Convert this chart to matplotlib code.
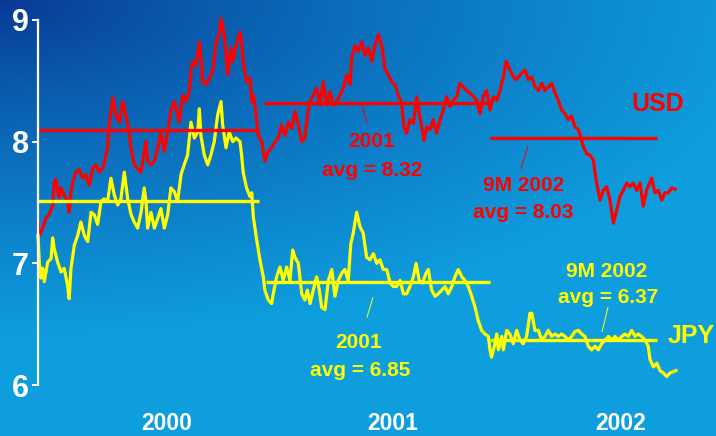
import matplotlib.pyplot as plt
import numpy as np

plt.rcParams['font.family'] = ['Liberation Sans', 'DejaVu Sans']
plt.rcParams['font.weight'] = 'bold'

# time in years since 1 Jan 2000, rate values
usd_t = [0.000, 0.006, 0.021, 0.035, 0.050, 0.065, 0.072, 0.080, 0.087, 0.094,
         0.102, 0.116, 0.131, 0.138, 0.146, 0.154, 0.168, 0.183, 0.198, 0.212,
         0.227, 0.242, 0.257, 0.271, 0.286, 0.301, 0.308, 0.315, 0.331, 0.345,
         0.360, 0.375, 0.389, 0.397, 0.412, 0.426, 0.441, 0.456, 0.470, 0.478,
         0.485, 0.500, 0.515, 0.530, 0.544, 0.559, 0.574, 0.588, 0.603, 0.611,
         0.625, 0.640, 0.655, 0.669, 0.677, 0.685, 0.699, 0.714, 0.721, 0.729,
         0.743, 0.758, 0.773, 0.788, 0.802, 0.810, 0.824, 0.832, 0.839, 0.854,
         0.862, 0.876, 0.894, 0.901, 0.908, 0.923, 0.938, 0.946, 0.953, 0.960,
         0.975, 0.990, 1.004, 1.019, 1.034, 1.049, 1.063, 1.078, 1.093, 1.108,
         1.123, 1.137, 1.152, 1.167, 1.181, 1.192, 1.204, 1.218, 1.233, 1.248,
         1.262, 1.277, 1.292, 1.307, 1.322, 1.336, 1.351, 1.366, 1.381, 1.388,
         1.403, 1.417, 1.432, 1.447, 1.462, 1.477, 1.491, 1.506, 1.521, 1.535,
         1.550, 1.565, 1.580, 1.594, 1.609, 1.619, 1.631, 1.646, 1.661, 1.676,
         1.687, 1.698, 1.708, 1.720, 1.735, 1.749, 1.764, 1.779, 1.793, 1.808,
         1.823, 1.838, 1.853, 1.867, 1.882, 1.897, 1.912, 1.926, 1.941, 1.956,
         1.970, 1.985, 2.000, 2.015, 2.030, 2.044, 2.059, 2.071, 2.081, 2.096,
         2.111, 2.125, 2.140, 2.155, 2.169, 2.185, 2.199, 2.214, 2.229, 2.243,
         2.258, 2.273, 2.288, 2.302, 2.317, 2.332, 2.346, 2.361, 2.376, 2.391,
         2.401, 2.413, 2.428, 2.442, 2.457, 2.465, 2.475, 2.487, 2.501, 2.516,
         2.531, 2.546, 2.561, 2.575, 2.590, 2.605, 2.619, 2.634, 2.649, 2.664,
         2.678, 2.693, 2.715, 2.730, 2.745, 2.760, 2.774, 2.789, 2.804, 2.819]
usd = [7.34, 7.23, 7.29, 7.37, 7.40, 7.48, 7.67, 7.69, 7.59, 7.54,
       7.62, 7.56, 7.51, 7.42, 7.59, 7.67, 7.75, 7.77, 7.70, 7.73,
       7.64, 7.78, 7.81, 7.75, 7.78, 7.89, 7.95, 8.14, 8.36, 8.22,
       8.16, 8.33, 8.22, 8.14, 7.95, 7.81, 7.78, 7.75, 7.92, 8.00,
       7.84, 7.81, 7.84, 7.95, 8.08, 7.92, 8.08, 8.25, 8.33, 8.28,
       8.16, 8.38, 8.33, 8.41, 8.58, 8.66, 8.63, 8.82, 8.69, 8.49,
       8.47, 8.52, 8.58, 8.82, 8.88, 9.01, 8.88, 8.71, 8.55, 8.77,
       8.66, 8.79, 8.90, 8.82, 8.66, 8.49, 8.52, 8.33, 8.38, 8.30,
       8.05, 8.00, 7.84, 7.92, 7.95, 8.00, 8.03, 8.14, 8.05, 8.16,
       8.11, 8.25, 8.14, 8.00, 8.03, 8.22, 8.33, 8.38, 8.44, 8.30,
       8.49, 8.30, 8.41, 8.30, 8.33, 8.38, 8.44, 8.55, 8.47, 8.69,
       8.79, 8.74, 8.82, 8.71, 8.77, 8.66, 8.79, 8.88, 8.79, 8.60,
       8.55, 8.49, 8.47, 8.38, 8.32, 8.12, 8.07, 8.18, 8.15, 8.37,
       8.23, 8.12, 8.01, 8.12, 8.10, 8.18, 8.07, 8.18, 8.26, 8.37,
       8.29, 8.34, 8.37, 8.48, 8.45, 8.42, 8.40, 8.37, 8.34, 8.23,
       8.37, 8.42, 8.26, 8.37, 8.34, 8.42, 8.53, 8.66, 8.62, 8.56,
       8.51, 8.53, 8.56, 8.59, 8.51, 8.53, 8.45, 8.42, 8.48, 8.42,
       8.45, 8.48, 8.40, 8.34, 8.26, 8.23, 8.18, 8.21, 8.12, 8.10,
       8.04, 7.96, 7.90, 7.89, 7.85, 7.74, 7.63, 7.52, 7.60, 7.63,
       7.52, 7.33, 7.44, 7.55, 7.60, 7.66, 7.63, 7.66, 7.60, 7.66,
       7.47, 7.60, 7.70, 7.58, 7.60, 7.52, 7.58, 7.58, 7.62, 7.61]

jpy_t = [0.000, 0.006, 0.013, 0.021, 0.028, 0.043, 0.058, 0.065, 0.072, 0.087,
         0.102, 0.116, 0.131, 0.138, 0.146, 0.161, 0.176, 0.190, 0.205, 0.220,
         0.235, 0.249, 0.264, 0.279, 0.293, 0.308, 0.323, 0.338, 0.353, 0.367,
         0.382, 0.397, 0.412, 0.426, 0.441, 0.456, 0.470, 0.478, 0.485, 0.500,
         0.515, 0.530, 0.544, 0.559, 0.574, 0.588, 0.603, 0.618, 0.633, 0.647,
         0.662, 0.677, 0.692, 0.707, 0.714, 0.721, 0.736, 0.751, 0.765, 0.780,
         0.795, 0.810, 0.817, 0.832, 0.846, 0.862, 0.876, 0.894, 0.901, 0.908,
         0.923, 0.938, 0.946, 0.953, 0.968, 0.982, 0.997, 1.004, 1.019, 1.034,
         1.041, 1.056, 1.071, 1.085, 1.100, 1.115, 1.127, 1.137, 1.152, 1.167,
         1.181, 1.192, 1.204, 1.218, 1.233, 1.245, 1.255, 1.270, 1.285, 1.300,
         1.314, 1.329, 1.344, 1.358, 1.373, 1.384, 1.395, 1.410, 1.425, 1.439,
         1.454, 1.469, 1.484, 1.499, 1.513, 1.528, 1.543, 1.558, 1.572, 1.587,
         1.602, 1.617, 1.631, 1.646, 1.661, 1.673, 1.687, 1.702, 1.717, 1.727,
         1.742, 1.757, 1.771, 1.786, 1.801, 1.815, 1.831, 1.845, 1.860, 1.875,
         1.889, 1.904, 1.919, 1.934, 1.948, 1.963, 1.978, 1.993, 2.000, 2.007,
         2.022, 2.030, 2.037, 2.052, 2.059, 2.074, 2.088, 2.103, 2.118, 2.133,
         2.147, 2.162, 2.177, 2.185, 2.199, 2.214, 2.229, 2.243, 2.258, 2.273,
         2.288, 2.302, 2.317, 2.332, 2.346, 2.361, 2.376, 2.391, 2.406, 2.420,
         2.435, 2.450, 2.465, 2.479, 2.494, 2.509, 2.524, 2.539, 2.553, 2.568,
         2.583, 2.597, 2.612, 2.627, 2.642, 2.656, 2.671, 2.686, 2.700, 2.708,
         2.723, 2.738, 2.752, 2.767, 2.782, 2.796, 2.811, 2.823]
jpy = [7.23, 7.01, 6.88, 6.96, 6.85, 7.01, 7.04, 7.21, 7.12, 7.01,
       6.93, 6.96, 6.82, 6.71, 6.96, 7.15, 7.23, 7.34, 7.23, 7.18,
       7.42, 7.40, 7.32, 7.51, 7.53, 7.51, 7.70, 7.56, 7.48, 7.53,
       7.75, 7.53, 7.40, 7.34, 7.29, 7.42, 7.62, 7.51, 7.29, 7.42,
       7.29, 7.37, 7.45, 7.29, 7.40, 7.62, 7.59, 7.51, 7.73, 7.81,
       7.89, 8.16, 8.03, 8.08, 8.27, 8.05, 7.89, 7.81, 7.89, 8.00,
       8.22, 8.33, 8.14, 7.95, 8.08, 8.00, 8.03, 8.00, 7.89, 7.75,
       7.62, 7.55, 7.58, 7.38, 7.19, 7.03, 6.89, 6.78, 6.70, 6.67,
       6.75, 6.89, 6.97, 6.86, 6.97, 6.86, 7.11, 7.05, 7.00, 6.75,
       6.70, 6.78, 6.67, 6.78, 6.89, 6.78, 6.64, 6.62, 6.86, 6.95,
       6.73, 6.86, 6.92, 6.95, 6.86, 7.16, 7.25, 7.42, 7.30, 7.25,
       7.05, 7.03, 7.08, 7.00, 7.03, 6.95, 6.95, 6.84, 6.81, 6.81,
       6.86, 6.75, 6.75, 6.81, 6.89, 7.00, 6.86, 6.84, 6.92, 6.95,
       6.78, 6.73, 6.75, 6.78, 6.81, 6.75, 6.81, 6.89, 6.95, 6.89,
       6.86, 6.81, 6.73, 6.64, 6.53, 6.45, 6.42, 6.40, 6.29, 6.23,
       6.34, 6.42, 6.29, 6.40, 6.29, 6.45, 6.42, 6.34, 6.45, 6.37,
       6.34, 6.40, 6.59, 6.59, 6.45, 6.45, 6.37, 6.40, 6.45, 6.40,
       6.42, 6.40, 6.42, 6.40, 6.37, 6.40, 6.44, 6.45, 6.42, 6.40,
       6.32, 6.29, 6.32, 6.29, 6.34, 6.37, 6.40, 6.37, 6.40, 6.37,
       6.40, 6.42, 6.40, 6.45, 6.40, 6.42, 6.40, 6.37, 6.32, 6.21,
       6.15, 6.18, 6.12, 6.10, 6.07, 6.10, 6.11, 6.12]

# period averages: (start, end, value)
usd_avg = [(2000.00, 2000.98, 8.10), (2001.00, 2002.00, 8.32), (2002.00, 2002.74, 8.03)]
jpy_avg = [(2000.00, 2000.98, 7.51), (2001.01, 2002.00, 6.85), (2002.00, 2002.74, 6.37)]

year_pos = [2000.57, 2001.57, 2002.58]
year_lab = ['2000', '2001', '2002']

RED = '#ff0000'
YEL = '#ffff00'

fig = plt.figure(figsize=(7.16, 4.36), dpi=100)
ax = fig.add_axes([0, 0, 1, 1])
x0, x1 = 1999.832, 2003.0
y0, y1 = 5.582, 9.164
ax.set_xlim(x0, x1)
ax.set_ylim(y0, y1)

# blue gradient background
gx, gy = np.meshgrid(np.linspace(0, 1, 300), np.linspace(0, 1, 200))
t = np.clip(np.sqrt((gx * 1.0) ** 2 + (gy * 1.4) ** 2) / 1.1, 0, 1) ** 0.8
dark = np.array([8, 55, 148]) / 255
light = np.array([14, 158, 222]) / 255
bg = dark[None, None, :] * (1 - t[..., None]) + light[None, None, :] * t[..., None]
ax.imshow(bg, extent=[x0, x1, y0, y1], aspect='auto', origin='upper', zorder=0)

ax.plot(2000 + np.array(usd_t), usd, color=RED, lw=2.3, zorder=3)
ax.plot(2000 + np.array(jpy_t), jpy, color=YEL, lw=2.3, zorder=3)

for a, b, v in usd_avg:
    ax.hlines(v, a, b, color=RED, lw=2.4, zorder=4)
for a, b, v in jpy_avg:
    ax.hlines(v, a, b, color=YEL, lw=2.4, zorder=4)

# annotations
kw = dict(ha='center', va='center', fontsize=15, fontweight='bold', zorder=5)
ax.text(2001.478, 8.00, '2001', color=RED, **kw)
ax.text(2001.478, 7.76, 'avg = 8.32', color=RED, **kw)
ax.plot([2001.434, 2001.456], [8.30, 8.15], color=RED, lw=0.7, zorder=5)

ax.text(2002.150, 7.64, '9M 2002', color=RED, **kw)
ax.text(2002.146, 7.42, 'avg = 8.03', color=RED, **kw)
ax.plot([2002.168, 2002.137], [7.96, 7.78], color=RED, lw=0.7, zorder=5)

ax.text(2001.420, 6.35, '2001', color=YEL, **kw)
ax.text(2001.425, 6.12, 'avg = 6.85', color=YEL, **kw)
ax.plot([2001.482, 2001.456], [6.72, 6.56], color=YEL, lw=0.7, zorder=5)

ax.text(2002.518, 6.93, '9M 2002', color=YEL, **kw)
ax.text(2002.522, 6.72, 'avg = 6.37', color=YEL, **kw)
ax.plot([2002.522, 2002.496], [6.64, 6.44], color=YEL, lw=0.7, zorder=5)

ax.text(2002.743, 8.31, 'USD', color=RED, ha='center', va='center',
        fontsize=18, fontweight='bold', zorder=5)
ax.text(2002.788, 6.40, 'JPY', color=YEL, ha='left', va='center',
        fontsize=18, fontweight='bold', zorder=5)

# axes styling
for s in ['top', 'right']:
    ax.spines[s].set_visible(False)
ax.spines['left'].set_position(('data', 2000.0))
ax.spines['left'].set_bounds(6, 9)
ax.spines['left'].set_color('white')
ax.spines['left'].set_linewidth(1.6)
ax.spines['left'].set_zorder(6)
ax.spines['bottom'].set_position(('data', 5.79))
ax.spines['bottom'].set_visible(False)

ax.set_yticks([6, 7, 8, 9])
ax.set_yticklabels(['6', '7', '8', '9'])
ax.tick_params(axis='y', colors='white', direction='out', length=4.5, width=1.4,
               pad=2, labelsize=22)
ax.set_xticks(year_pos)
ax.set_xticklabels(year_lab)
ax.tick_params(axis='x', colors='white', length=0, pad=1, labelsize=16.5)
for lab in ax.get_xticklabels() + ax.get_yticklabels():
    lab.set_fontweight('bold')

fig.savefig('out.png', dpi=100)
